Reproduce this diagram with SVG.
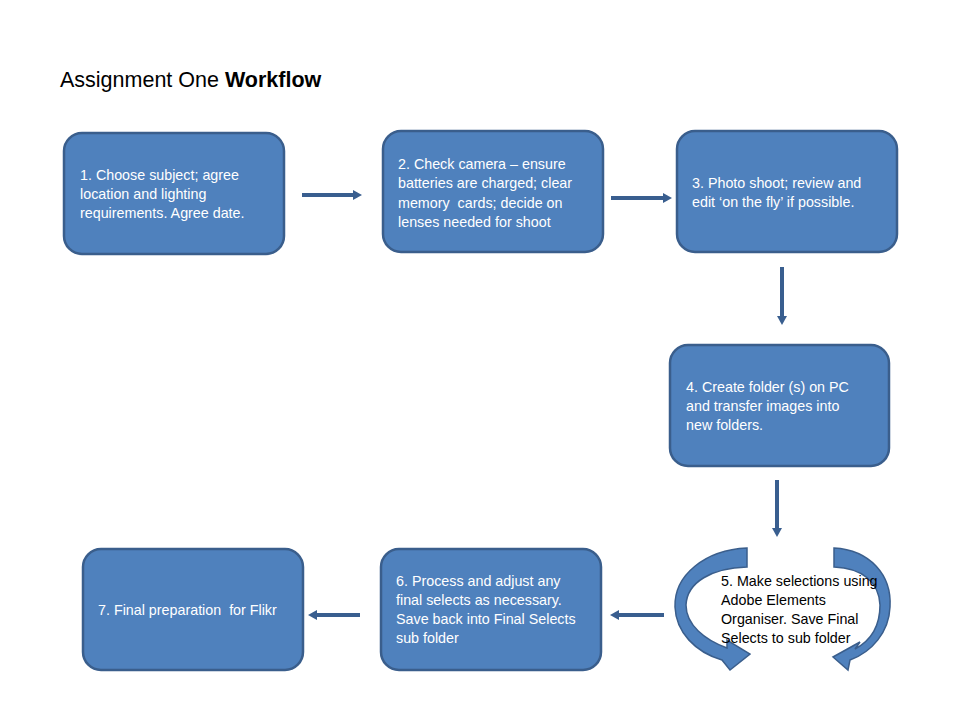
<svg xmlns="http://www.w3.org/2000/svg" width="960" height="720" viewBox="0 0 960 720">
<style>
.box{fill:#4F81BD;stroke:#3A5E8C;stroke-width:2.5}
.t{font-family:"Liberation Sans",Arial,sans-serif;font-size:14.3px;fill:#fff;white-space:pre}
.tb{font-family:"Liberation Sans",Arial,sans-serif;font-size:14.3px;fill:#000;white-space:pre}
.con{stroke:#395E8F;stroke-width:4;fill:none}
.curl{fill:#4F81BD;stroke:#3A5E8C;stroke-width:1.5}
</style>
<defs>
<marker id="ah" markerUnits="userSpaceOnUse" markerWidth="9" markerHeight="10" refX="2" refY="5" orient="auto" viewBox="0 0 9 10">
<path d="M0,0 L9,5 L0,10 z" fill="#395E8F"/>
</marker>
</defs>
<rect width="960" height="720" fill="#fff"/>
<text x="60" y="87" font-family="Liberation Sans,Arial,sans-serif" font-size="21.5" fill="#000">Assignment One <tspan font-weight="bold">Workflow</tspan></text>

<g id="connectors">
<path class="con" d="M302,195 L355,195" marker-end="url(#ah)"/>
<path class="con" d="M611,198 L665,198" marker-end="url(#ah)"/>
<path class="con" d="M782,267 L782,318" marker-end="url(#ah)"/>
<path class="con" d="M777,480 L777,530" marker-end="url(#ah)"/>
<path class="con" d="M664,615 L617,615" marker-end="url(#ah)"/>
<path class="con" d="M360,615 L315,615" marker-end="url(#ah)"/>
</g>

<g id="n1">
<rect class="box" x="64" y="133" width="220" height="121" rx="18"/>
<text class="t" x="80" y="180">1. Choose subject; agree</text>
<text class="t" x="80" y="199">location and lighting</text>
<text class="t" x="80" y="218">requirements. Agree date.</text>
</g>
<g id="n2">
<rect class="box" x="383" y="131" width="220" height="121" rx="18"/>
<text class="t" x="398" y="169">2. Check camera – ensure</text>
<text class="t" x="398" y="188">batteries are charged; clear</text>
<text class="t" x="398" y="208">memory  cards; decide on</text>
<text class="t" x="398" y="227">lenses needed for shoot</text>
</g>
<g id="n3">
<rect class="box" x="677" y="131" width="220" height="121" rx="18"/>
<text class="t" x="692" y="188">3. Photo shoot; review and</text>
<text class="t" x="692" y="207">edit ‘on the fly’ if possible.</text>
</g>
<g id="n4">
<rect class="box" x="670" y="345" width="219" height="121" rx="18"/>
<text class="t" x="686" y="392">4. Create folder (s) on PC</text>
<text class="t" x="686" y="411">and transfer images into</text>
<text class="t" x="686" y="430">new folders.</text>
</g>
<g id="n5">
<path class="curl" d="M747,548 C705,550 674,575 675,607 C676,632 695,652 722,660 L730,670 L750,654 L727,640 L727,648 C705,640 686,625 686,605 C687,582 712,568 747,567 Z"/>
<path class="curl" d="M834,548 C870,550 892,575 890,607 C889,632 872,652 850,660 L848,670 L833,657 L860,642 L855,649 C872,640 880,625 880,605 C879,582 862,568 834,567 Z"/>
<text class="tb" x="721" y="586">5. Make selections using</text>
<text class="tb" x="721" y="605">Adobe Elements</text>
<text class="tb" x="721" y="624">Organiser. Save Final</text>
<text class="tb" x="721" y="643">Selects to sub folder</text>
</g>
<g id="n6">
<rect class="box" x="381" y="549" width="220" height="121" rx="18"/>
<text class="t" x="396" y="586">6. Process and adjust any</text>
<text class="t" x="396" y="605">final selects as necessary.</text>
<text class="t" x="396" y="624">Save back into Final Selects</text>
<text class="t" x="396" y="643">sub folder</text>
</g>
<g id="n7">
<rect class="box" x="83" y="549" width="220" height="121" rx="18"/>
<text class="t" x="98" y="615">7. Final preparation  for Flikr</text>
</g>
</svg>
